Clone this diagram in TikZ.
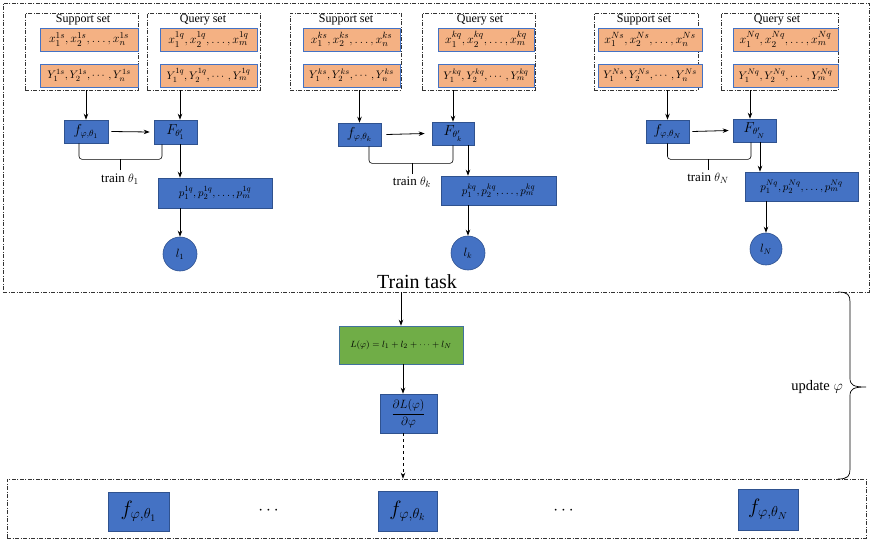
\documentclass[tikz,border=0pt]{standalone}
\usepackage{amsmath}
\usepackage{fontspec}
\setmainfont{Liberation Serif}
\usetikzlibrary{arrows.meta,calc}
\definecolor{bfill}{HTML}{4472C4}
\definecolor{bdraw}{HTML}{2F528F}
\definecolor{ofill}{HTML}{F4B183}
\definecolor{gfill}{HTML}{70AD47}
\definecolor{gdraw}{HTML}{41719C}
\begin{document}
\begin{tikzpicture}[x=1pt,y=-1pt,
  blk/.style={draw=bdraw, fill=bfill, line width=0.6pt, inner sep=0pt, font=\fontsize{13.5}{15}\selectfont},
  org/.style={draw=bfill, fill=ofill, line width=0.8pt, inner sep=0pt, minimum height=23pt, font=\fontsize{12.5}{14}\selectfont},
  orgy/.style={org, font=\fontsize{11}{13}\selectfont},
  grn/.style={draw=gdraw, fill=gfill, line width=0.6pt, inner sep=0pt, font=\fontsize{9.5}{11}\selectfont},
  ddbox/.style={draw=black!80, dash pattern=on 4pt off 1.5pt on 1pt off 1.5pt, line width=0.6pt, inner sep=0pt},
  circ/.style={circle, draw=bdraw, fill=bfill, line width=0.6pt, inner sep=0pt, minimum size=34pt, font=\fontsize{12}{14}\selectfont},
  arr/.style={-{Stealth[length=6pt,width=4.5pt]}, line width=0.8pt},
  brk/.style={line width=0.6pt, rounded corners=3pt},
  lbl/.style={font=\fontsize{12}{14}\selectfont, inner sep=0pt},
  tlbl/.style={font=\fontsize{13}{15}\selectfont, inner sep=0pt},
  pbox/.style={blk, font=\fontsize{11}{13}\selectfont},
  bbox/.style={blk, font=\fontsize{20}{22}\selectfont}
]
\useasboundingbox (0,0) rectangle (871,539);
% outer boxes
\node[ddbox, minimum width=866pt, minimum height=289pt] (top) at (436,147.5) {};
\node[ddbox, minimum width=859pt, minimum height=59pt] (bot) at (436.5,508.5) {};

% ---------- group 1 ----------
\node[ddbox, minimum width=113pt, minimum height=77pt] (sup1) at (81.5,51.5) {};
\node[lbl] (sl1) at (83,20) {Support set};
\node[org, minimum width=98pt] (xs1) at (89,39.5) {$x_1^{1s}, x_2^{1s}, \dots, x_n^{1s}$};
\node[orgy, minimum width=98pt] (ys1) at (89,75.5) {$Y_1^{1s}, Y_2^{1s}, \cdots, Y_n^{1s}$};
\node[ddbox, minimum width=113pt, minimum height=77pt] (qry1) at (203.5,51.5) {};
\node[lbl] (ql1) at (203,20) {Query set};
\node[org, minimum width=97pt] (xq1) at (208.5,39.5) {$x_1^{1q}, x_2^{1q}, \dots, x_m^{1q}$};
\node[orgy, minimum width=97pt] (yq1) at (208.5,75.5) {$Y_1^{1q}, Y_2^{1q}, \cdots, Y_m^{1q}$};
\node[blk, minimum width=44pt, minimum height=23pt] (f1) at (86,131.5) {$f_{\varphi,\theta_1}$};
\node[blk, minimum width=43pt, minimum height=24pt] (F1) at (175.5,132) {$F_{\theta_1'}$};
\node[pbox, minimum width=114pt, minimum height=30pt] (p1) at (215,193) {$p_1^{1q}, p_2^{1q}, \dots, p_m^{1q}$};
\node[circ] (l1) at (180,254) {$l_1$};
\draw[arr] (f1.north |- sup1.south) -- (f1.north);
\draw[arr] (qry1.south -| l1) -- (F1.north -| l1);
\draw[arr] ([xshift=3pt]f1.east) -- ([xshift=-4pt]F1.west);
\draw[arr] (F1.south -| l1) -- (p1.north -| l1);
\draw[arr] (p1.south -| l1) -- (l1.north);
\draw[brk] ([xshift=-7pt]f1.south) -- ++(0,16) -| ([xshift=-13.5pt]F1.south);
\draw[line width=0.6pt] (120,159) -- (120,170);
\node[tlbl] (t1) at (120,179) {train $\theta_1$};

% ---------- group k ----------
\node[ddbox, minimum width=111pt, minimum height=77pt] (supk) at (345.5,51.5) {};
\node[lbl] (slk) at (346,20) {Support set};
\node[org, minimum width=97pt] (xsk) at (351.5,39.5) {$x_1^{ks}, x_2^{ks}, \dots, x_n^{ks}$};
\node[orgy, minimum width=97pt] (ysk) at (351.5,75.5) {$Y_1^{ks}, Y_2^{ks}, \cdots, Y_n^{ks}$};
\node[ddbox, minimum width=113pt, minimum height=77pt] (qryk) at (478.5,51.5) {};
\node[lbl] (qlk) at (480,20) {Query set};
\node[org, minimum width=96pt] (xqk) at (486,39.5) {$x_1^{kq}, x_2^{kq}, \dots, x_m^{kq}$};
\node[orgy, minimum width=96pt] (yqk) at (486,75.5) {$Y_1^{kq}, Y_2^{kq}, \cdots, Y_m^{kq}$};
\node[blk, minimum width=43pt, minimum height=23pt] (fk) at (359.5,134.5) {$f_{\varphi,\theta_k}$};
\node[blk, minimum width=42pt, minimum height=23pt] (Fk) at (453,133.5) {$F_{\theta_k'}$};
\node[pbox, minimum width=115pt, minimum height=29pt] (pk) at (498.5,190.5) {$p_1^{kq}, p_2^{kq}, \dots, p_m^{kq}$};
\node[circ] (lk) at (468,253) {$l_k$};
\draw[arr] (fk.north |- supk.south) -- (fk.north);
\draw[arr] (Fk.north |- qryk.south) -- (Fk.north);
\draw[arr] ([xshift=5pt]fk.east) -- ([xshift=-7pt]Fk.west);
\draw[arr] (Fk.south -| lk) -- (pk.north -| lk);
\draw[arr] (pk.south -| lk) -- (lk.north);
\draw[brk] ([xshift=9.5pt]fk.south) -- ++(0,17) -| (Fk.south);
\draw[line width=0.6pt] (412,163) -- (412,174);
\node[tlbl] (tk) at (412,182) {train $\theta_k$};

% ---------- group N ----------
\node[ddbox, minimum width=104pt, minimum height=77pt] (supN) at (646,51.5) {};
\node[lbl] (slN) at (644,20) {Support set};
\node[org, minimum width=104pt] (xsN) at (650,39.5) {$x_1^{Ns}, x_2^{Ns}, \dots, x_n^{Ns}$};
\node[orgy, minimum width=104pt] (ysN) at (650,75.5) {$Y_1^{Ns}, Y_2^{Ns}, \cdots, Y_n^{Ns}$};
\node[ddbox, minimum width=117pt, minimum height=77pt] (qryN) at (779.5,51.5) {};
\node[lbl] (qlN) at (777,20) {Query set};
\node[org, minimum width=105pt] (xqN) at (785.5,39.5) {$x_1^{Nq}, x_2^{Nq}, \dots, x_m^{Nq}$};
\node[orgy, minimum width=105pt] (yqN) at (785.5,75.5) {$Y_1^{Nq}, Y_2^{Nq}, \cdots, Y_m^{Nq}$};
\node[blk, minimum width=43pt, minimum height=23pt] (fN) at (667.5,131.5) {$f_{\varphi,\theta_N}$};
\node[blk, minimum width=43pt, minimum height=23pt] (FN) at (754.5,130.5) {$F_{\theta_N'}$};
\node[pbox, minimum width=113pt, minimum height=29pt] (pN) at (801.5,186.5) {$p_1^{Nq}, p_2^{Nq}, \dots, p_m^{Nq}$};
\node[circ, minimum size=32pt] (lN) at (766,249) {$l_N$};
\draw[arr] (fN.north |- supN.south) -- (fN.north);
\draw[arr] ([xshift=-4.5pt]FN.north |- qryN.south) -- ([xshift=-4.5pt]FN.north);
\draw[arr] ([xshift=3pt]fN.east) -- ([xshift=-4pt]FN.west);
\draw[arr] ([xshift=5.5pt]FN.south) -- ([xshift=5.5pt]FN.south |- pN.north);
\draw[arr] (lN.north |- pN.south) -- (lN.north);
\draw[brk] (fN.south) -- ++(0,16) -| ([xshift=-3.5pt]FN.south);
\draw[line width=0.6pt] (708,159) -- (708,170);
\node[tlbl] (tN) at (708,178) {train $\theta_N$};

% ---------- middle ----------
\node[font=\fontsize{20}{22}\selectfont, inner sep=0pt] (tt) at (417,282) {Train task};
\node[grn, minimum width=124pt, minimum height=38pt] (L) at (401,345) {$L(\varphi)=l_1+l_2+\cdots+l_N$};
\node[blk, minimum width=57pt, minimum height=39pt, font=\fontsize{12}{14}\selectfont] (dL) at (408.5,413.5) {$\dfrac{\partial L(\varphi)}{\partial\varphi}$};
\draw[arr] (L.north |- top.south) -- (L.north);
\draw[arr] ([xshift=2pt]L.south) -- ([xshift=2pt]L.south |- dL.north);
\draw[arr, dashed, line width=0.7pt] ([xshift=2pt]L.south |- dL.south) -- ([xshift=2pt]L.south |- bot.north);

% ---------- bottom ----------
\node[bbox, minimum width=61pt, minimum height=39pt] (b1) at (138.5,511.5) {$f_{\varphi,\theta_1}$};
\node[bbox, minimum width=59pt, minimum height=40pt] (bk) at (407.5,511) {$f_{\varphi,\theta_k}$};
\node[bbox, minimum width=60pt, minimum height=41pt] (bN) at (768,509.5) {$f_{\varphi,\theta_N}$};
\node[font=\fontsize{16}{18}\selectfont, inner sep=0pt] (d1) at (270,511) {$\cdots$};
\node[font=\fontsize{16}{18}\selectfont, inner sep=0pt] (d2) at (565,511) {$\cdots$};

% ---------- brace ----------
\draw[line width=0.7pt] (838,292) .. controls (848,292) and (850,295) .. (850,302) -- (850,378)
  .. controls (850,385) and (853,387) .. (866,387)
  .. controls (853,387) and (850,389) .. (850,396) -- (850,469)
  .. controls (850,476) and (848,479) .. (838,479);
\node[font=\fontsize{14.5}{16}\selectfont, inner sep=0pt] (up) at (817,387) {update $\varphi$};
\end{tikzpicture}
\end{document}
